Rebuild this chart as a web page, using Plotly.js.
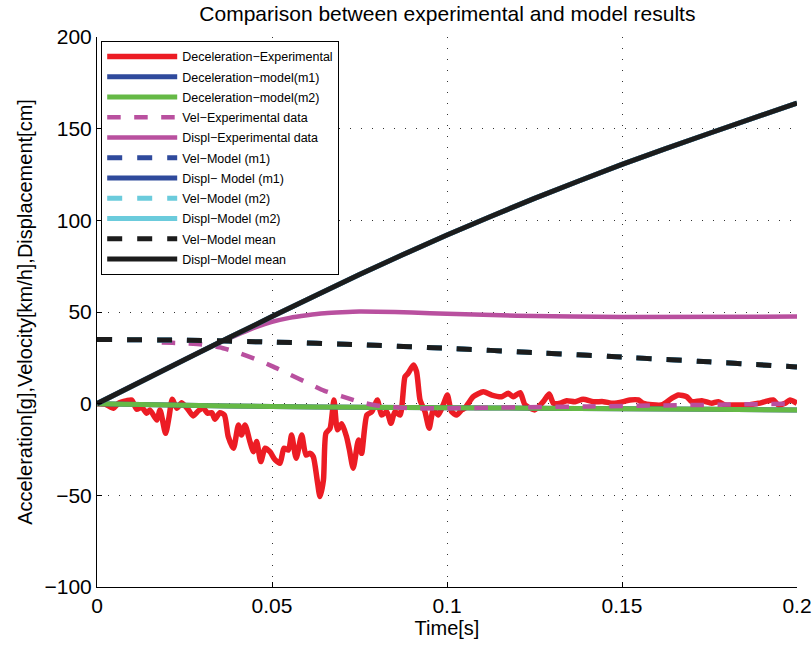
<!DOCTYPE html>
<html>
<head>
<meta charset="utf-8">
<script src="https://cdn.plot.ly/plotly-3.0.1.min.js"></script>
<style>html,body{margin:0;padding:0;background:#fff}#chart{width:812px;height:649px}</style>
</head>
<body>
<div id="chart"></div>
<script>
// ---- Data ----
const tDecelExp = [0,0.0023,0.0047,0.0061,0.0085,0.0099,0.0113,0.0128,0.0142,0.0151,0.0171,0.018,0.0196,0.0206,0.0215,0.0228,0.0242,0.0261,0.0275,0.029,0.0304,0.0316,0.0328,0.0337,0.0351,0.0364,0.0375,0.039,0.0404,0.0413,0.0423,0.0437,0.0447,0.0456,0.0468,0.048,0.0494,0.0509,0.0523,0.0534,0.0547,0.0556,0.0569,0.0585,0.0597,0.0609,0.0618,0.0629,0.0637,0.0647,0.0654,0.0666,0.0677,0.0687,0.0699,0.0713,0.0721,0.0732,0.0747,0.0756,0.0771,0.0785,0.0801,0.0813,0.0828,0.084,0.0851,0.0866,0.088,0.0889,0.0904,0.0913,0.0923,0.0937,0.0949,0.0961,0.0975,0.0989,0.1001,0.1013,0.1028,0.1042,0.1051,0.1061,0.1075,0.1104,0.1128,0.1156,0.1175,0.1189,0.1209,0.1223,0.1251,0.1275,0.1292,0.1304,0.1323,0.1342,0.1366,0.1389,0.1418,0.1447,0.1475,0.1504,0.1523,0.1547,0.1561,0.1613,0.1642,0.1661,0.1685,0.1699,0.1728,0.1756,0.1775,0.1794,0.1823,0.1861,0.189,0.1909,0.1932,0.1947,0.1966,0.198,0.2];
const decelExp = [0,-0.2,-2.5,0.2,1.6,2,-3,-2,-5.2,-3.4,-8.9,-3.4,-16.2,-7.1,2.4,-2.5,0.5,-3.4,-6.7,-3.8,-2.5,-5.2,-4.9,-8.5,-4.9,-6.2,-18,-24.3,-11.6,-17.1,-11.6,-20.7,-26.2,-20.7,-31.6,-24.3,-26.2,-30.7,-32.5,-24.3,-25.3,-17.1,-29.8,-17.1,-28,-27.1,-28.9,-41.6,-50.7,-41.6,-16.2,-13.4,2,-14.3,-11,-18,-25,-35.2,-19.8,-27.1,-6.2,-4.4,2,-6.2,-4.4,-10.7,-4.4,-6.2,14.7,16.6,21.1,17.5,2,-4.4,-13.4,-3.4,-6.2,-0.7,4.7,-4.4,-6.2,-3.4,-2.5,0.2,3.8,6.5,4.7,3.8,5.7,3.8,6,-0.7,-3.4,1.1,5.3,0.2,0.2,1.6,1.1,2.4,1.1,1.1,0.2,1.1,2,2,0.2,-0.7,2.9,4.7,3.8,1.1,1.6,0.2,1.1,-0.7,-0.7,-0.7,0.2,1.1,2,-0.7,0.2,2,0.2];

const tModel = [0,0.025,0.05,0.075,0.1,0.125,0.15,0.175,0.2];
const decelModelM1 = [0,-0.8,-1.6,-1.9,-2.2,-2.5,-2.8,-3.1,-3.4];
const decelModelM2 = [0,-0.8,-1.6,-1.9,-2.2,-2.5,-2.8,-3.1,-3.4];
const velModelM1 = [35,34.6,33.6,32.2,30.2,27.9,25.4,22.8,20];
const velModelM2 = [35,34.6,33.6,32.2,30.2,27.9,25.4,22.8,20];
const velModelMean = [35,34.6,33.6,32.2,30.2,27.9,25.4,22.8,20];
const displModelM1 = [0,24,47.5,70.5,92,112,130.5,147.5,164];
const displModelM2 = [0,24,47.5,70.5,92,112,130.5,147.5,164];
const displModelMean = [0,24,47.5,70.5,92,112,130.5,147.5,164];

const tVelExp = [0.0185,0.0215,0.025,0.03,0.035,0.04,0.045,0.05,0.055,0.06,0.065,0.07,0.075,0.08,0.09,0.1,0.12,0.14,0.16,0.18,0.2];
const velExp = [33.4,33.2,33,32.3,30.8,28,24.5,20.5,16,11.5,7,4,1,-1,-2.5,-2.5,-2,-1.5,-1,-0.5,0];

const tDisplExp = [0,0.01,0.02,0.03,0.035,0.04,0.045,0.05,0.055,0.06,0.065,0.07,0.075,0.08,0.09,0.1,0.12,0.15,0.2];
const displExp = [0,9.7,19.3,28.8,33.4,37.5,41.5,44.7,46.8,48.2,49.3,49.9,50.3,50.2,49.7,49,48,47.3,47.5];

const names = ['Deceleration\u2212Experimental','Deceleration\u2212model(m1)','Deceleration\u2212model(m2)','Vel\u2212Experimental data','Displ\u2212Experimental data','Vel\u2212Model (m1)','Displ\u2212 Model (m1)','Vel\u2212Model (m2)','Displ\u2212Model (m2)','Vel\u2212Model mean','Displ\u2212Model mean'];
const xTicks = [0,0.05,0.1,0.15,0.2];
const yTicks = [-100,-50,0,50,100,150,200];

const RED='#ec1c24', BLUE='#2f4a9c', GREEN='#65b946', MAG='#b9509f', CYAN='#6bcbdc', BLK='#1c1c1c';
function tr(x,y,name,color,dash,width,shape){
  return {x:x,y:y,name:name,type:'scatter',mode:'lines',legendgroup:name,
    line:{color:color,width:width,dash:dash,shape:shape||'linear',smoothing:0.6}};
}
const data = [
  tr(tDecelExp,decelExp,names[0],RED,'solid',5.5,'spline'),
  tr(tModel,decelModelM1,names[1],BLUE,'solid',5,'spline'),
  tr(tModel,decelModelM2,names[2],GREEN,'solid',5,'spline'),
  tr(tVelExp,velExp,names[3],MAG,'dash',4.5,'spline'),
  tr(tDisplExp,displExp,names[4],MAG,'solid',4.5,'spline'),
  tr(tModel,velModelM1,names[5],BLUE,'dash',5,'spline'),
  tr(tModel,displModelM1,names[6],BLUE,'solid',5,'spline'),
  tr(tModel,velModelM2,names[7],CYAN,'dash',5,'spline'),
  tr(tModel,displModelM2,names[8],CYAN,'solid',5,'spline'),
  tr(tModel,velModelMean,names[9],BLK,'dash',5,'spline'),
  tr(tModel,displModelMean,names[10],BLK,'solid',5,'spline')
];
const FONT = 'Liberation Sans, Arial, Helvetica, sans-serif';
const layout = {
  width:812,height:649,
  margin:{l:97,r:15,t:37,b:62},
  paper_bgcolor:'#fff',plot_bgcolor:'#fff',
  font:{family:FONT,color:'#000'},
  title:{text:'Comparison between experimental and model results',font:{size:21,family:FONT},x:0.551,xanchor:'center',y:0.99,yanchor:'top'},
  xaxis:{range:[0,0.2],tickvals:xTicks,ticktext:xTicks.map(String),showgrid:true,gridcolor:'#333',griddash:'1px,10px',gridwidth:1,
    showline:true,linecolor:'#000',linewidth:1,ticks:'inside',ticklen:5,tickcolor:'#000',tickfont:{size:21},zeroline:false,
    title:{text:'Time[s]',font:{size:20},standoff:2},mirror:false},
  yaxis:{range:[-100,200],tickvals:yTicks,ticktext:yTicks.map(v=>v<0?'\u2212'+Math.abs(v):String(v)),showgrid:true,gridcolor:'#333',griddash:'1px,10px',gridwidth:1,
    showline:true,linecolor:'#000',linewidth:1,ticks:'inside',ticklen:5,tickcolor:'#000',tickfont:{size:21},zeroline:false,
    title:{text:'Acceleration[g],Velocity[km/h],Displacement[cm]',font:{size:20,family:FONT},standoff:6}},
  showlegend:true,
  legend:{x:0.006,y:0.993,xanchor:'left',yanchor:'top',bgcolor:'#fff',bordercolor:'#000',borderwidth:1,
    font:{size:12.5,family:FONT},traceorder:'grouped',tracegroupgap:1,itemwidth:70}
};
Plotly.newPlot('chart',data,layout,{displayModeBar:false,staticPlot:true});
</script>
</body>
</html>
